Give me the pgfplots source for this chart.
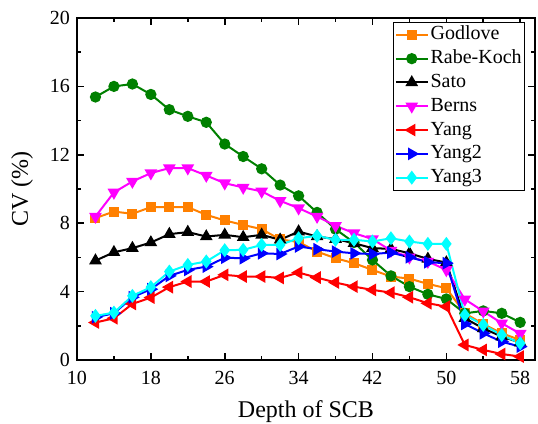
\documentclass[border=0pt]{standalone}
\usepackage{fontspec}
\setmainfont{Liberation Serif}
\usepackage{pgfplots}
\pgfplotsset{compat=1.18}
\usepackage{pgfplotstable}
\definecolor{cOrange}{RGB}{255,128,0}
\definecolor{cGreen}{RGB}{0,128,0}
\definecolor{cMag}{RGB}{255,0,255}
\definecolor{cRed}{RGB}{255,0,0}
\definecolor{cBlue}{RGB}{0,0,255}
\definecolor{cCyan}{RGB}{0,255,255}
\pgfplotstableread{
x  god   rabe  sato  berns yang  yang2 yang3
12 8.30  15.38 5.81  8.39  2.19  2.50  2.58
14 8.68  16.00 6.30  9.80  2.44  2.73  2.77
16 8.55  16.14 6.54  10.44 3.28  3.67  3.75
18 8.94  15.53 6.87  10.93 3.65  4.14  4.26
20 8.94  14.64 7.36  11.22 4.26  4.92  5.17
22 8.94  14.25 7.48  11.22 4.59  5.27  5.56
24 8.49  13.90 7.22  10.79 4.59  5.46  5.76
26 8.16  12.63 7.32  10.34 4.98  5.98  6.42
28 7.90  11.90 7.18  10.09 4.88  5.95  6.44
30 7.65  11.18 7.32  9.86  4.88  6.24  6.73
32 7.05  10.23 7.03  9.31  4.80  6.20  6.73
34 6.90  9.60  7.51  8.88  5.11  6.64  7.12
36 6.34  8.63  7.22  8.39  4.82  6.48  7.26
38 5.95  7.65  7.07  7.85  4.53  6.34  7.03
40 5.66  6.87  6.83  7.42  4.29  6.24  7.03
42 5.27  5.85  6.54  7.07  4.10  6.20  6.93
44 4.88  4.92  6.50  6.40  3.94  6.28  7.12
46 4.76  4.29  6.24  6.01  3.67  6.01  6.93
48 4.45  3.84  5.91  5.76  3.32  5.72  6.79
50 4.20  3.57  5.70  5.27  3.12  5.66  6.79
52 2.73  2.73  2.44  3.55  0.88  2.11  2.63
54 2.10  2.87  1.85  2.85  0.59  1.56  2.05
56 1.56  2.73  1.37  2.15  0.35  1.07  1.46
58 1.17  2.20  1.02  1.54  0.20  0.78  0.98
}\data
\begin{document}
\begin{tikzpicture}
\path[use as bounding box] (-38.5pt,-32pt) rectangle (230.5pt,180pt);
\begin{axis}[
  at={(0,0)}, anchor=south west,
  scale only axis, width=229pt, height=171pt,
  xmin=10, xmax=59.6, ymin=0, ymax=20,
  xtick={10,18,...,58}, minor xtick={14,22,...,54},
  ytick={0,4,...,20}, minor ytick={2,6,...,18},
  tick align=inside,
  major tick length=3.5pt, minor tick length=2pt,
  every tick/.style={black, line width=0.8pt},
  axis line style={line width=1pt},
  /pgf/number format/assume math mode=true,
  ticklabel style={font=\fontsize{10}{12}\selectfont},
  xticklabel style={anchor=base, yshift=-12.5pt},
  xlabel={Depth of SCB},
  ylabel={CV (\%)},
  label style={font=\fontsize{12}{14}\selectfont},
  xlabel style={at={(axis description cs:0.5,-0.1667)}, anchor=base},
  ylabel style={at={(axis description cs:-0.107,0.5)}, anchor=base, rotate=0},
  legend cell align=left,
  legend style={at={(axis description cs:0.691,0.989)}, anchor=north west,
    font=\fontsize{10}{12}\selectfont, draw=black, line width=0.5pt,
    inner sep=0.5pt, row sep=0.3pt,
    nodes={inner sep=1pt, text height=7.3pt, text depth=2.3pt}},
  legend image code/.code={\draw[mark repeat=2,mark phase=2] plot coordinates {(0pt,0pt) (7.9pt,0pt) (15.8pt,0pt)};},
  every axis plot/.append style={line width=1pt},
]
\addplot[cOrange, mark=square*, mark size=2pt, mark options={solid}] table[x=x,y=god] {\data};
\addlegendentry{Godlove}
\addplot[cGreen, mark=*, mark size=2.3pt] table[x=x,y=rabe] {\data};
\addlegendentry{Rabe-Koch}
\addplot[black, mark=triangle*, mark size=2.7pt] table[x=x,y=sato] {\data};
\addlegendentry{Sato}
\addplot[cMag, mark=triangle*, mark size=2.7pt, mark options={rotate=180}] table[x=x,y=berns] {\data};
\addlegendentry{Berns}
\addplot[cRed, mark=triangle*, mark size=2.7pt, mark options={rotate=90}] table[x=x,y=yang] {\data};
\addlegendentry{Yang}
\addplot[cBlue, mark=triangle*, mark size=2.7pt, mark options={rotate=-90}] table[x=x,y=yang2] {\data};
\addlegendentry{Yang2}
\addplot[cCyan, mark=diamond*, mark size=2.7pt] table[x=x,y=yang3] {\data};
\addlegendentry{Yang3}
\end{axis}
\end{tikzpicture}
\end{document}
